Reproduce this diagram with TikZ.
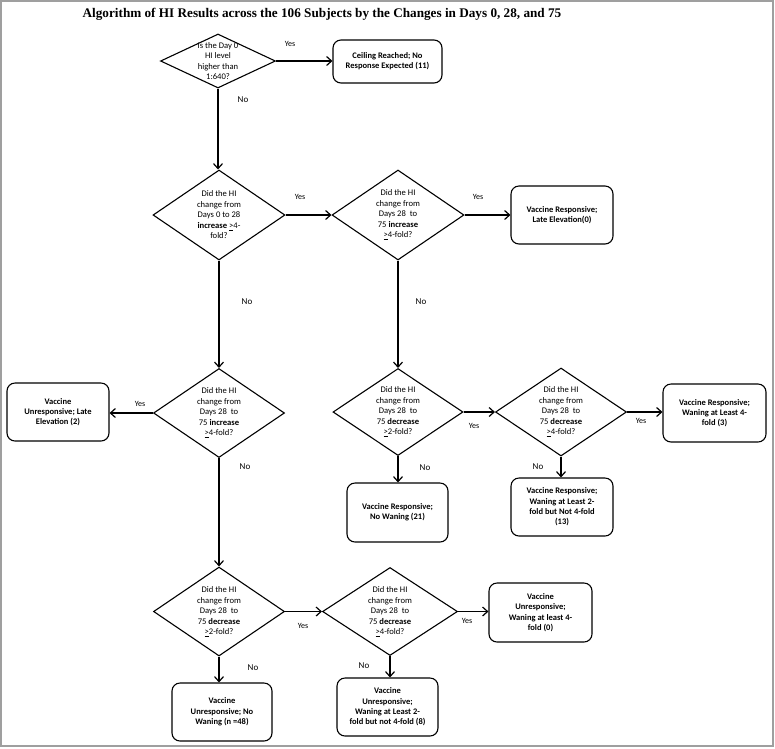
\documentclass[tikz,border=0pt]{standalone}
\usepackage{fontspec}
\setmainfont{Carlito}
\newfontfamily\titlefont{Liberation Serif}
\usetikzlibrary{shapes.geometric,arrows.meta}
\begin{document}
\begin{tikzpicture}[x=1pt,y=-1pt,
  dia/.style={draw, diamond, line width=1.1pt, inner sep=0pt, minimum width=132pt, minimum height=90pt},
  dtext/.style={align=center, inner sep=0pt, font=\fontsize{8.6}{10.5}\selectfont},
  outbox/.style={draw, rounded corners=8pt, line width=1.1pt, align=center, inner sep=0pt,
    minimum width=102pt, minimum height=58pt, font=\bfseries\fontsize{8.5}{10.3}\selectfont},
  arr/.style={-{Straight Barb[length=5pt,width=9pt]}, line width=1.2pt},
  yeslab/.style={inner sep=0pt, font=\fontsize{8}{9}\selectfont},
  nolab/.style={inner sep=0pt, font=\fontsize{9}{10}\selectfont},
  frame/.style={draw=gray!75, line width=1.5pt}
]
\useasboundingbox (0,0) rectangle (775,748);
\draw[frame] (1,1) rectangle (773,746);

\node[font=\titlefont\bfseries\fontsize{13.2}{15}\selectfont, inner sep=0pt] (title) at (322,14)
  {Algorithm of HI Results across the 106 Subjects by the Changes in Days 0, 28, and 75};

% diamonds
\node[dia, minimum width=115pt, minimum height=54pt] (d1) at (218,61) {};
\node[dtext] at (d1) {Is the Day 0\\HI level\\higher than\\1:640?};

\node[dia] (d2) at (219,215) {};
\node[dtext] at (d2) {Did the HI\\change from\\Days 0 to 28\\\textbf{increase} \underline{>}4-\\fold?};

\node[dia] (d3) at (398,215) {};
\node[dtext] at (d3) {Did the HI\\change from\\Days 28\ \ to\\75 \textbf{increase}\\\underline{>}4-fold?};

\node[dia, minimum width=131pt, minimum height=89pt] (d4) at (219,413) {};
\node[dtext] at (d4) {Did the HI\\change from\\Days 28\ \ to\\75 \textbf{increase}\\\underline{>}4-fold?};

\node[dia, minimum width=130pt, minimum height=87pt] (d5) at (398,412) {};
\node[dtext] at (d5) {Did the HI\\change from\\Days 28\ \ to\\75 \textbf{decrease}\\\underline{>}2-fold?};

\node[dia, minimum width=131pt, minimum height=88pt] (d7) at (561,412) {};
\node[dtext] at (d7) {Did the HI\\change from\\Days 28\ \ to\\75 \textbf{decrease}\\\underline{>}4-fold?};

\node[dia, minimum width=131pt, minimum height=89pt] (d6) at (219,611.5) {};
\node[dtext] at (d6) {Did the HI\\change from\\Days 28\ \ to\\75 \textbf{decrease}\\\underline{>}2-fold?};

\node[dia, minimum width=135pt, minimum height=88pt] (d8) at (390,611.5) {};
\node[dtext] at (d8) {Did the HI\\change from\\Days 28\ \ to\\75 \textbf{decrease}\\\underline{>}4-fold?};

% outcome boxes
\node[outbox, minimum width=109pt, minimum height=43pt] (b1) at (387.5,61.5) {Ceiling Reached; No\\Response Expected (11)};
\node[outbox] (b2) at (562,215) {Vaccine Responsive;\\Late Elevation(0)};
\node[outbox] (b3) at (58,412) {Vaccine\\Unresponsive; Late\\Elevation (2)};
\node[outbox, minimum width=103pt] (b4) at (714.5,413) {Vaccine Responsive;\\Waning at Least 4-\\fold (3)};
\node[outbox, minimum width=101pt, minimum height=59pt] (b5) at (397.5,512.5) {Vaccine Responsive;\\No Waning (21)};
\node[outbox] (b6) at (562,507) {Vaccine Responsive;\\Waning at Least 2-\\fold but Not 4-fold\\(13)};
\node[outbox, minimum width=103pt, minimum height=59pt] (b7) at (540.5,612.5) {Vaccine\\Unresponsive;\\Waning at least 4-\\fold (0)};
\node[outbox, minimum width=100pt] (b8) at (222,712) {Vaccine\\Unresponsive; No\\Waning (n =48)};
\node[outbox, minimum width=101pt] (b9) at (387.5,707) {Vaccine\\Unresponsive;\\Waning at Least 2-\\fold but not 4-fold (8)};

% connectors
\draw[arr] (d1.east) -- (d1.east -| b1.west);
\draw[arr] (d1.south) -- (d1.south |- d2.north);
\draw[arr] (d2.east) -- (d3.west);
\draw[arr] (d3.east) -- (b2.west);
\draw[arr] (d2.south) -- (d4.north);
\draw[arr] (d3.south) -- (d5.north);
\draw[arr] (d4.west) -- (d4.west -| b3.east);
\draw[arr] (d4.south) -- (d6.north);
\draw[arr] (d5.east) -- (d7.west);
\draw[arr] (d7.east) -- (d7.east -| b4.west);
\draw[arr] (d5.south) -- (d5.south |- b5.north);
\draw[arr] (d7.south) -- (d7.south |- b6.north);
\draw[arr] (d6.east) -- (d8.west);
\draw[arr] (d8.east) -- (d8.east -| b7.west);
\draw[arr] (d6.south) -- (d6.south |- b8.north);
\draw[arr] (d8.south) -- (d8.south |- b9.north);

% labels
\node[yeslab] (y1) at (290,44) {Yes};
\node[nolab] (n1) at (243,100) {No};
\node[yeslab] (y2) at (300,197) {Yes};
\node[yeslab] (y3) at (478,197) {Yes};
\node[nolab] (n2) at (247,302) {No};
\node[nolab] (n3) at (421,302) {No};
\node[yeslab] (y4) at (140,404) {Yes};
\node[nolab] (n4) at (245,467) {No};
\node[yeslab] (y5) at (474,426) {Yes};
\node[yeslab] (y7) at (641,421) {Yes};
\node[nolab] (n5) at (425,468) {No};
\node[nolab] (n7) at (538,467) {No};
\node[yeslab] (y6) at (303,626) {Yes};
\node[yeslab] (y8) at (467,621) {Yes};
\node[nolab] (n6) at (253,668) {No};
\node[nolab] (n8) at (364,666) {No};
\end{tikzpicture}
\end{document}
